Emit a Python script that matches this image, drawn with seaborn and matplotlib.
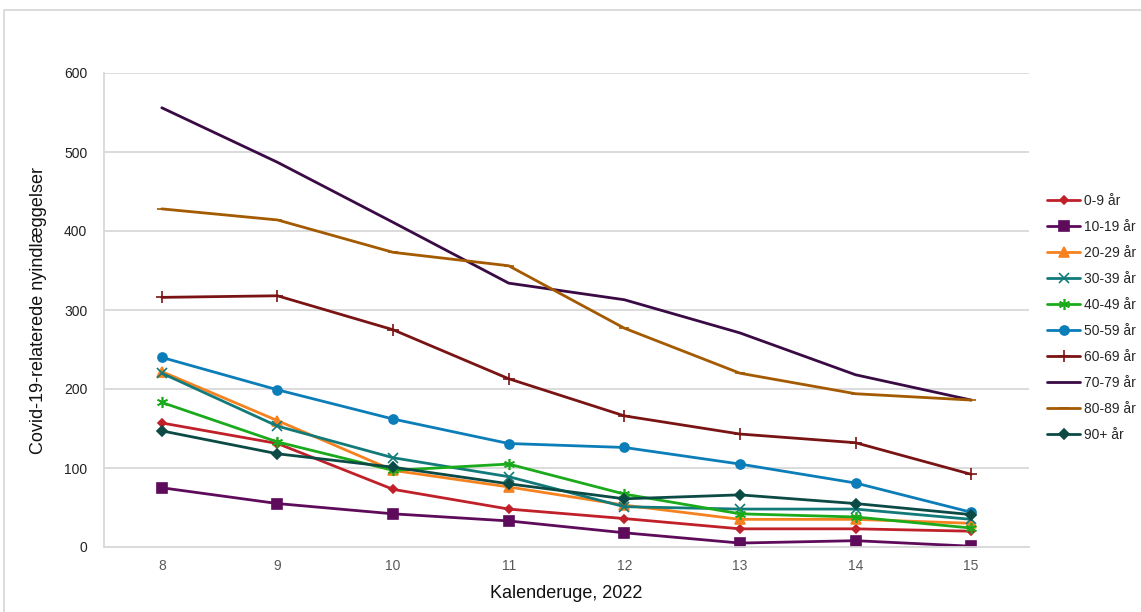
import matplotlib
matplotlib.use("Agg")
import matplotlib.pyplot as plt
from matplotlib.patches import Rectangle
import seaborn as sns
import pandas as pd

# Calendar weeks and weekly COVID-19-related admissions per age group
weeks = [8, 9, 10, 11, 12, 13, 14, 15]
groups = ["0-9 år", "10-19 år", "20-29 år", "30-39 år", "40-49 år",
          "50-59 år", "60-69 år", "70-79 år", "80-89 år", "90+ år"]

age_0_9 = [157, 131, 73, 48, 36, 23, 23, 20]
age_10_19 = [75, 55, 42, 33, 18, 5, 8, 1]
age_20_29 = [222, 160, 97, 76, 53, 35, 35, 30]
age_30_39 = [220, 153, 113, 89, 51, 48, 48, 35]
age_40_49 = [183, 133, 97, 105, 67, 42, 38, 24]
age_50_59 = [240, 199, 162, 131, 126, 105, 81, 44]
age_60_69 = [316, 318, 275, 213, 166, 143, 132, 92]
age_70_79 = [556, 487, 411, 334, 313, 271, 218, 186]
age_80_89 = [428, 414, 373, 356, 277, 220, 194, 186]
age_90_plus = [147, 118, 101, 80, 61, 66, 55, 41]

series = [age_0_9, age_10_19, age_20_29, age_30_39, age_40_49,
          age_50_59, age_60_69, age_70_79, age_80_89, age_90_plus]

colors = ["#C0202A", "#5E0B5C", "#F5821F", "#137A7A", "#1BAA1B",
          "#0B7DB8", "#7A1414", "#3A0A45", "#A35A00", "#0B4A45"]
markers = ["D", "s", "^", "x", (6, 2, 0), "o", "+", None, "_", "D"]
msizes = [4.5, 6.5, 6.5, 7, 8, 6.5, 9, 0, 7, 5]

df = pd.DataFrame(
    [(w, g, v) for g, vals in zip(groups, series) for w, v in zip(weeks, vals)],
    columns=["uge", "gruppe", "antal"],
)

sns.set_theme(style="white")
plt.rcParams["font.family"] = ["Liberation Sans", "DejaVu Sans"]

fig = plt.figure(figsize=(11.41, 6.12), dpi=100)
ax = fig.add_axes([104 / 1141, 1 - 547 / 612, 925 / 1141, 474 / 612])

grid_c = "#D9D9D9"
for g, c, m, ms in zip(groups, colors, markers, msizes):
    sub = df[df["gruppe"] == g]
    kw = dict(marker=m, markersize=ms, markeredgecolor=c, markerfacecolor=c,
              markeredgewidth=1.2) if m is not None else {}
    sns.lineplot(data=sub, x="uge", y="antal", ax=ax, color=c, linewidth=2.0,
                 label=g, **kw)

ax.set_xlim(7.5, 15.5)
ax.set_ylim(0, 600)
ax.set_xticks(weeks)
ax.set_yticks(range(0, 601, 100))
ax.yaxis.grid(True, color=grid_c, linewidth=1.3)
ax.xaxis.grid(False)
ax.set_axisbelow(True)
for s in ["top", "right"]:
    ax.spines[s].set_visible(False)
for s in ["left", "bottom"]:
    ax.spines[s].set_color(grid_c)
    ax.spines[s].set_linewidth(1.3)
ax.tick_params(axis="both", length=0, labelsize=10, labelcolor="#595959")
ax.tick_params(axis="x", pad=9)
ax.tick_params(axis="y", pad=12)
for t in ax.get_yticklabels():
    t.set_color("#222222")

ax.set_xlabel("Kalenderuge, 2022", fontsize=13, color="#111111", labelpad=8)
ax.set_ylabel("Covid-19-relaterede nyindlæggelser", fontsize=13,
              color="#111111", labelpad=12)

leg = ax.legend(loc="upper left", bbox_to_anchor=(1047 / 1141, 1 - 194 / 612),
                bbox_transform=fig.transFigure, frameon=False, fontsize=10,
                handlelength=2.4, handletextpad=0.25, labelspacing=0.86,
                borderaxespad=0, borderpad=0)
for line in leg.get_lines():
    line.set_linewidth(2.0)

fig.patches.append(Rectangle((4 / 1141, -0.02), 1.05, 1 - 10 / 612 + 0.02,
                             transform=fig.transFigure, fill=False,
                             edgecolor=grid_c, linewidth=1.3))

fig.savefig("out.png", dpi=100)
